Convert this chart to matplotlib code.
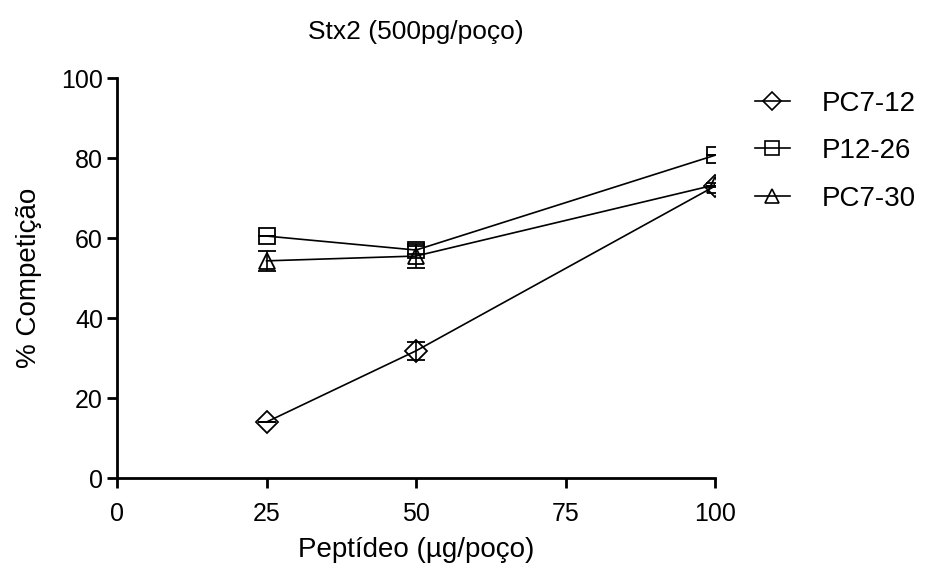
import matplotlib
matplotlib.use("Agg")
import matplotlib.pyplot as plt
from matplotlib.lines import Line2D

plt.rcParams['font.family'] = ['Liberation Sans', 'DejaVu Sans']

# dados
peptideo = [25, 50, 100]
series = ['PC7-12', 'P12-26', 'PC7-30']
marcadores = ['D', 's', '^']
pc7_12 = [14.0, 31.8, 73.0]
pc7_12_err = [0.0, 2.3, 0.0]
p12_26 = [60.5, 57.0, 80.7]
p12_26_err = [0.0, 1.0, 0.0]
pc7_30 = [54.3, 55.5, 73.3]
pc7_30_err = [2.5, 3.0, 0.5]

valores = [pc7_12, p12_26, pc7_30]
erros = [pc7_12_err, p12_26_err, pc7_30_err]
tamanhos = [11, 12, 12]

fig = plt.figure(figsize=(9.25, 5.7), dpi=100)
ax = fig.add_axes([0.1265, 0.1614, 0.6465, 0.7016])

for nome, y, e, m, ms in zip(series, valores, erros, marcadores, tamanhos):
	ax.errorbar(peptideo, y, yerr=e, color='black', lw=1.2, marker=m, ms=ms,
		mfc='none', mec='black', mew=1.3, capsize=6.5, capthick=2, elinewidth=1.2)

ax.set_xlim(0, 100)
ax.set_ylim(0, 100)
ax.set_xticks([0, 25, 50, 75, 100])
ax.set_yticks([0, 20, 40, 60, 80, 100])
for s in ['top', 'right']:
	ax.spines[s].set_visible(False)
for s in ['left', 'bottom']:
	ax.spines[s].set_linewidth(2)
ax.tick_params(width=2, length=7, labelsize=18, direction='out', pad=3)
ax.tick_params(axis='x', pad=10)

ax.set_xlabel('Peptídeo (µg/poço)', fontsize=20, labelpad=8)
ax.set_ylabel('% Competição', fontsize=20, labelpad=14)
ax.set_title('Stx2 (500pg/poço)', fontsize=19, pad=28)

handles = [Line2D([0], [0], color='black', lw=1.2, marker=m, ms=ms - 2,
	mfc='none', mec='black', mew=1.2) for m, ms in zip(marcadores, tamanhos)]
fig.legend(handles, series, loc='upper left', bbox_to_anchor=(0.789, 0.885),
	frameon=False, fontsize=20, handlelength=1.26, labelspacing=0.78, handletextpad=1.15)

fig.savefig('out.png', dpi=100)
